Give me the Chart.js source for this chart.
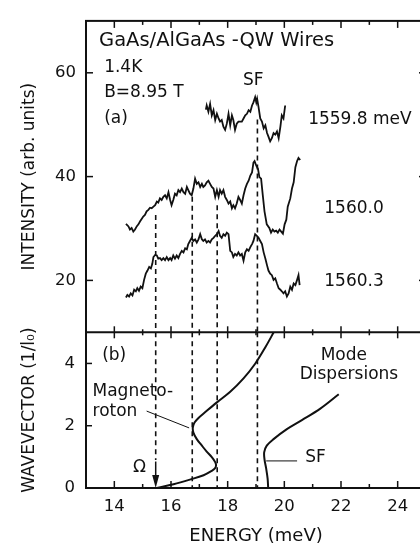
<!DOCTYPE html>
<html>
<head>
<meta charset="utf-8">
<title>GaAs/AlGaAs QW wires - inelastic light scattering</title>
<script src="https://cdn.jsdelivr.net/npm/chart.js"></script>
<style>
    html, body { margin: 0; padding: 0; background: #fff; overflow: hidden; }
    #wrap { width: 420px; height: 545px; overflow: hidden; }
    canvas { display: block; }
</style>
</head>
<body>
<div id="wrap"><canvas id="chart" width="440" height="545"></canvas></div>
<script>
    // ---- data ----
    // (a) spectra, energy in meV / intensity in arb. units
    const trace1E = [17.23,17.26,17.32,17.38,17.44,17.50,17.56,17.62,17.68,17.73,17.79,17.85,17.91,17.97,18.03,18.09,18.15,18.20,18.26,18.32,18.38,18.50,18.56,18.62,18.68,18.74,18.80,18.86,18.91,18.97,19.01,19.04,19.09,19.15,19.21,19.27,19.33,19.39,19.44,19.50,19.56,19.62,19.68,19.74,19.80,19.86,19.91,19.97,20.03];
    const trace1I = [52.9,53.7,52.5,54.0,51.8,52.8,50.9,52.1,51.2,50.6,50.9,49.6,49.0,50.2,52.1,49.9,51.8,50.9,49.0,50.2,50.6,50.6,51.2,51.8,52.1,52.8,52.5,53.7,54.3,55.3,54.3,55.0,53.4,51.2,50.6,49.3,49.9,48.4,47.7,46.8,47.4,48.4,48.1,48.7,47.4,49.6,51.8,51.2,53.7];

    const trace2E = [14.41,14.50,14.55,14.61,14.67,14.73,14.79,14.85,14.91,14.97,15.02,15.08,15.14,15.20,15.26,15.32,15.38,15.44,15.50,15.55,15.61,15.67,15.73,15.79,15.85,15.91,15.97,16.02,16.08,16.14,16.20,16.26,16.32,16.38,16.44,16.50,16.56,16.61,16.67,16.73,16.79,16.85,16.91,16.97,17.03,17.09,17.14,17.20,17.26,17.32,17.38,17.44,17.50,17.56,17.62,17.68,17.73,17.79,17.85,17.91,17.97,18.03,18.09,18.15,18.20,18.26,18.32,18.38,18.44,18.50,18.56,18.62,18.68,18.74,18.80,18.86,18.91,18.95,19.01,19.07,19.12,19.18,19.24,19.30,19.38,19.47,19.53,19.59,19.65,19.71,19.77,19.83,19.89,19.95,20.01,20.07,20.12,20.21,20.27,20.33,20.39,20.45,20.50,20.56];
    const trace2I = [30.9,30.4,29.8,30.1,29.4,29.8,30.4,30.8,31.4,31.9,32.3,32.6,33.3,33.6,34.0,33.9,34.2,34.5,35.2,35.0,35.8,35.5,36.1,36.4,35.8,37.0,35.5,34.5,35.5,36.7,36.4,37.4,37.0,37.7,37.0,36.7,38.0,37.4,36.7,36.4,37.7,39.6,38.6,38.9,38.0,38.6,38.0,38.3,38.9,39.2,38.6,38.0,37.7,36.1,37.4,36.1,37.4,36.7,37.4,36.1,35.5,34.8,35.2,33.9,34.5,33.9,34.8,36.1,35.5,34.8,36.4,37.7,38.6,39.2,40.2,40.8,42.7,43.0,42.1,41.5,39.9,39.6,36.4,33.3,30.8,30.1,29.2,29.8,29.4,29.6,29.2,29.8,29.4,29.0,30.8,31.7,34.2,35.8,37.7,38.9,41.8,43.0,43.6,43.2];

    const trace3E = [14.41,14.46,14.52,14.58,14.64,14.70,14.76,14.81,14.87,14.93,14.99,15.05,15.11,15.17,15.23,15.29,15.34,15.38,15.44,15.50,15.55,15.61,15.67,15.73,15.79,15.85,15.91,15.97,16.02,16.08,16.14,16.20,16.26,16.32,16.38,16.44,16.50,16.56,16.61,16.67,16.73,16.79,16.85,16.91,16.97,17.03,17.09,17.14,17.20,17.26,17.32,17.38,17.44,17.50,17.56,17.62,17.68,17.73,17.79,17.85,17.91,17.97,18.03,18.09,18.15,18.20,18.26,18.32,18.38,18.44,18.50,18.56,18.62,18.68,18.74,18.80,18.86,18.91,18.97,19.03,19.09,19.15,19.21,19.27,19.33,19.39,19.44,19.50,19.56,19.62,19.68,19.74,19.80,19.86,19.91,19.97,20.03,20.09,20.15,20.21,20.27,20.33,20.39,20.45,20.50,20.54];
    const trace3I = [16.7,17.2,16.9,17.5,17.1,18.2,17.9,18.5,18.0,18.8,18.5,20.1,21.3,21.9,22.6,22.3,23.2,24.5,24.9,24.8,24.2,24.3,23.9,24.3,23.9,24.5,23.9,24.3,23.9,24.8,24.2,24.8,24.3,25.1,25.7,25.4,26.2,26.0,27.0,27.6,28.2,27.6,27.9,27.3,27.9,28.9,27.9,27.6,27.9,27.3,27.6,27.3,27.9,28.2,28.6,28.9,29.5,28.6,28.2,28.9,28.6,29.2,28.9,25.7,25.4,24.5,25.1,24.8,25.4,24.8,25.1,23.8,25.4,26.0,25.7,26.4,27.0,27.6,28.9,28.6,28.2,27.6,27.0,25.4,24.2,22.9,21.9,21.3,21.0,20.1,20.4,19.4,18.5,18.2,17.9,17.5,17.9,16.9,17.5,18.8,18.2,19.4,19.1,20.1,21.0,19.1];

    // (b) mode dispersions, energy in meV / wavevector in 1/l0
    const rotonE = [15.50,16.09,16.67,17.15,17.44,17.55,17.59,17.56,17.44,17.26,17.09,16.91,16.79,16.77,16.83,16.97,17.20,17.62,18.09,18.56,18.97,19.33,19.62];
    const rotonQ = [0,0.12,0.27,0.41,0.55,0.63,0.72,0.83,0.99,1.17,1.36,1.57,1.78,1.94,2.10,2.25,2.43,2.75,3.09,3.52,3.99,4.52,4.99];
    const sfE = [19.43,19.41,19.36,19.30,19.29,19.38,19.62,20.09,20.62,21.27,21.92];
    const sfQ = [0,0.30,0.62,0.92,1.15,1.36,1.57,1.89,2.18,2.55,3.01];

    // dashed guide lines: energy, where they start in (a), where they stop in (b)
    const guideE = [15.46, 16.75, 17.63, 19.05];
    const guideTopA = [32.6, 36.1, 34.5, 51.0];
    const guideEndB = [0.9, 0, 0, 0];

    // ticks
    const xTicks = [14, 16, 18, 20, 22, 24];
    const xMinor = [15, 17, 19, 21, 23];
    const yTicksA = [20, 40, 60];
    const yTicksB = [0, 2, 4];

    const ink = '#111';
    const font = 'DejaVu Sans';

    // text in the plot: [text, energy, value, axis, align, size]
    const notes = [
        ['GaAs/AlGaAs -QW Wires', 13.46, 65.15, 'yA', 'left', 19.5],
        ['1.4K', 13.64, 60.2, 'yA', 'left', 17],
        ['B=8.95 T', 13.64, 55.3, 'yA', 'left', 17],
        ['(a)', 13.64, 50.4, 'yA', 'left', 17],
        ['SF', 18.90, 57.7, 'yA', 'center', 17],
        ['1559.8 meV', 20.84, 50.2, 'yA', 'left', 17],
        ['1560.0', 21.41, 33.0, 'yA', 'left', 17],
        ['1560.3', 21.41, 18.9, 'yA', 'left', 17],
        ['(b)', 13.57, 4.11, 'yB', 'left', 17],
        ['Magneto-', 13.23, 2.94, 'yB', 'left', 17],
        ['roton', 13.23, 2.31, 'yB', 'left', 17],
        ['\u03A9', 14.89, 0.51, 'yB', 'center', 17],
        ['Mode', 22.10, 4.11, 'yB', 'center', 17],
        ['Dispersions', 22.28, 3.50, 'yB', 'center', 17],
        ['SF', 20.74, 0.83, 'yB', 'left', 17]
    ];
    // thin leader lines in (b): [e1, q1, e2, q2]
    const leaders = [
        [15.14, 2.47, 16.64, 1.93],
        [19.36, 0.87, 20.45, 0.87]
    ];

    const pts = (xs, ys) => xs.map((v, i) => ({x: v, y: ys[i]}));

    const datasets = [
        {data: pts(trace1E, trace1I), yAxisID: 'yA', borderWidth: 1.8},
        {data: pts(trace2E, trace2I), yAxisID: 'yA', borderWidth: 1.8},
        {data: pts(trace3E, trace3I), yAxisID: 'yA', borderWidth: 1.8},
        {data: pts(rotonE, rotonQ), yAxisID: 'yB', borderWidth: 2, tension: 0.35},
        {data: pts(sfE, sfQ), yAxisID: 'yB', borderWidth: 2, tension: 0.35}
    ];
    guideE.forEach((e, i) => {
        datasets.push({data: [{x: e, y: guideTopA[i]}, {x: e, y: 10}], yAxisID: 'yA', borderWidth: 1.6, borderDash: [5, 4]});
        datasets.push({data: [{x: e, y: 5}, {x: e, y: guideEndB[i]}], yAxisID: 'yB', borderWidth: 1.6, borderDash: [5, 4]});
    });

    function line(ctx, x1, y1, x2, y2) {
        ctx.beginPath();
        ctx.moveTo(x1, y1);
        ctx.lineTo(x2, y2);
        ctx.stroke();
    }

    // frame with inward ticks, annotations, arrow
    const framePlugin = {
        id: 'frame',
        afterDatasetsDraw(chart) {
            const {ctx, chartArea: a, scales} = chart;
            const {x, yA, yB} = scales;
            const mid = yA.bottom;
            ctx.save();
            ctx.strokeStyle = ink;
            ctx.fillStyle = ink;
            ctx.lineWidth = 2;
            ctx.strokeRect(a.left, a.top, a.right - a.left, a.bottom - a.top);
            line(ctx, a.left, mid, a.right, mid);

            ctx.lineWidth = 1.5;
            xTicks.forEach(v => {
                const px = x.getPixelForValue(v);
                line(ctx, px, a.top, px, a.top + 7);
                line(ctx, px, mid - 6, px, mid + 6);
                line(ctx, px, a.bottom, px, a.bottom - 7);
            });
            xMinor.forEach(v => {
                const px = x.getPixelForValue(v);
                line(ctx, px, a.top, px, a.top + 4);
                line(ctx, px, mid - 3, px, mid + 3);
                line(ctx, px, a.bottom, px, a.bottom - 4);
            });
            yTicksA.forEach(v => {
                const py = yA.getPixelForValue(v);
                line(ctx, a.left, py, a.left + 7, py);
                line(ctx, a.right, py, a.right - 7, py);
            });
            yTicksB.slice(1).forEach(v => {
                const py = yB.getPixelForValue(v);
                line(ctx, a.left, py, a.left + 6, py);
                line(ctx, a.right, py, a.right - 6, py);
            });

            // arrow at Omega
            const ax = x.getPixelForValue(guideE[0]);
            const a0 = yB.getPixelForValue(0);
            line(ctx, ax, yB.getPixelForValue(0.85), ax, a0 - 8);
            ctx.beginPath();
            ctx.moveTo(ax, a0);
            ctx.lineTo(ax - 3.5, a0 - 13);
            ctx.lineTo(ax + 3.5, a0 - 13);
            ctx.closePath();
            ctx.fill();

            ctx.lineWidth = 1;
            leaders.forEach(([e1, q1, e2, q2]) => {
                line(ctx, x.getPixelForValue(e1), yB.getPixelForValue(q1), x.getPixelForValue(e2), yB.getPixelForValue(q2));
            });

            ctx.textBaseline = 'alphabetic';
            notes.forEach(([text, e, v, axis, align, size]) => {
                ctx.font = size + 'px "' + font + '"';
                ctx.textAlign = align;
                ctx.fillText(text, x.getPixelForValue(e), scales[axis].getPixelForValue(v));
            });
            ctx.restore();
        }
    };

    const tickFont = {family: font, size: 16.5};
    const titleFont = {family: font, size: 17, lineHeight: 1.2};

    new Chart(document.getElementById('chart'), {
        type: 'line',
        data: {datasets: datasets},
        options: {
            responsive: false,
            animation: false,
            events: [],
            layout: {padding: {top: 13, right: 14, left: 0, bottom: 0}},
            elements: {
                point: {radius: 0},
                line: {borderColor: ink, fill: false, tension: 0}
            },
            plugins: {legend: {display: false}, tooltip: {enabled: false}},
            scales: {
                x: {
                    type: 'linear', position: 'bottom', min: 13, max: 25,
                    grid: {display: false, drawTicks: false}, border: {display: false},
                    ticks: {color: ink, font: tickFont, padding: 9, maxRotation: 0},
                    title: {display: true, text: 'ENERGY (meV)', color: ink,
                        font: {family: font, size: 18, lineHeight: 1}, padding: {top: 0, bottom: 0}},
                    afterBuildTicks: s => { s.ticks = xTicks.map(v => ({value: v})); },
                    afterFit: s => { s.height = 57; }
                },
                yB: {
                    type: 'linear', position: 'left', stack: 'panels', stackWeight: 1, weight: 0,
                    min: 0, max: 5,
                    grid: {display: false, drawTicks: false}, border: {display: false},
                    ticks: {color: ink, font: tickFont, padding: 11},
                    title: {display: true, text: 'WAVEVECTOR (1/l\u2080)', color: ink, font: titleFont, padding: {top: 19, bottom: 0}},
                    afterBuildTicks: s => { s.ticks = yTicksB.map(v => ({value: v})); },
                    afterFit: s => { s.width = 86; }
                },
                yA: {
                    type: 'linear', position: 'left', stack: 'panels', stackWeight: 2, weight: 1,
                    min: 10, max: 70,
                    grid: {display: false, drawTicks: false}, border: {display: false},
                    ticks: {color: ink, font: tickFont, padding: 10},
                    title: {display: true, text: 'INTENSITY (arb. units)', color: ink, font: titleFont, padding: {top: 19, bottom: 0}},
                    afterBuildTicks: s => { s.ticks = yTicksA.map(v => ({value: v})); },
                    afterFit: s => { s.width = 86; }
                }
            }
        },
        plugins: [framePlugin]
    });
</script>
</body>
</html>
